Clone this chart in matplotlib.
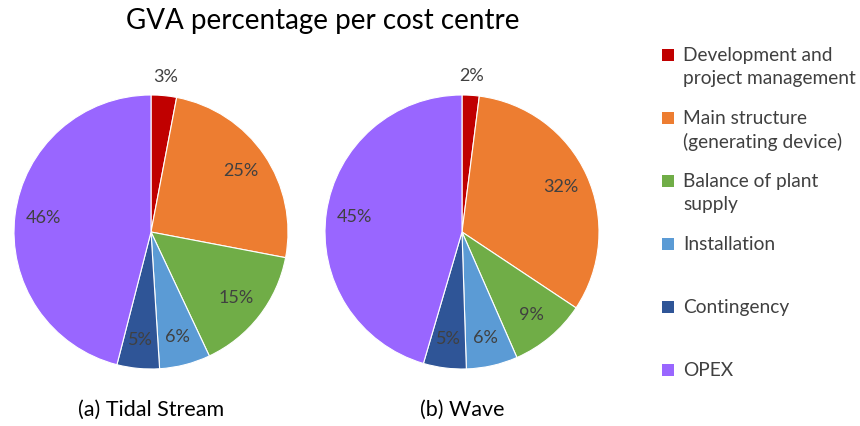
import matplotlib.pyplot as plt
from matplotlib.patches import Rectangle

plt.rcParams['font.family'] = ['Lato', 'DejaVu Sans']

categories = ['Development and\nproject management',
              'Main structure\n(generating device)',
              'Balance of plant\nsupply',
              'Installation',
              'Contingency',
              'OPEX']
tidal = [3, 25, 15, 6, 5, 46]
wave = [2, 32, 9, 6, 5, 45]
titles = ['(a) Tidal Stream', '(b) Wave']
colors = ['#C00000', '#ED7D31', '#70AD47', '#5B9BD5', '#2F5597', '#9966FF']
text_col = '#404040'

W, H = 860, 426
fig = plt.figure(figsize=(W / 100, H / 100), dpi=100)

R = 137
centres = [(151, 232), (462, 232)]

for vals, (cx, cy), sub in zip([tidal, wave], centres, titles):
    ax = fig.add_axes([(cx - R) / W, (H - cy - R) / H, 2 * R / W, 2 * R / H])
    wedges, texts, autotexts = ax.pie(
        vals, colors=colors, startangle=90, counterclock=False,
        autopct='%1.0f%%', pctdistance=0.79,
        wedgeprops=dict(edgecolor='white', linewidth=0.8),
        textprops=dict(color=text_col, fontsize=13))
    # the tiny first slice gets its label outside, above the pie
    px, py = autotexts[0].get_position()
    autotexts[0].set_position((px / 0.79 * 1.14, py / 0.79 * 1.14))
    for t in autotexts:
        t.set_clip_on(False)
    ax.set_xlim(-1, 1)
    ax.set_ylim(-1, 1)
    ax.axis('off')
    fig.text(cx / W, 1 - 410 / H, sub, ha='center', va='center',
             fontsize=15.5, color='#000000')

fig.text(323 / W, 1 - 21 / H, 'GVA percentage per cost centre',
         ha='center', va='center', fontsize=20, color='#000000')

# legend, entries stacked down the right side
leg_y = [55, 118, 181, 244, 307, 370]
for lab, col, y in zip(categories, colors, leg_y):
    fig.patches.append(Rectangle((662 / W, 1 - (y + 6) / H), 12 / W, 12 / H,
                                 transform=fig.transFigure, facecolor=col,
                                 edgecolor='none'))
    fig.text(683 / W, 1 - (y - 8) / H, lab, ha='left', va='top',
             fontsize=13.8, color=text_col, linespacing=1.4)

fig.savefig('out.png', dpi=100, facecolor='white')
